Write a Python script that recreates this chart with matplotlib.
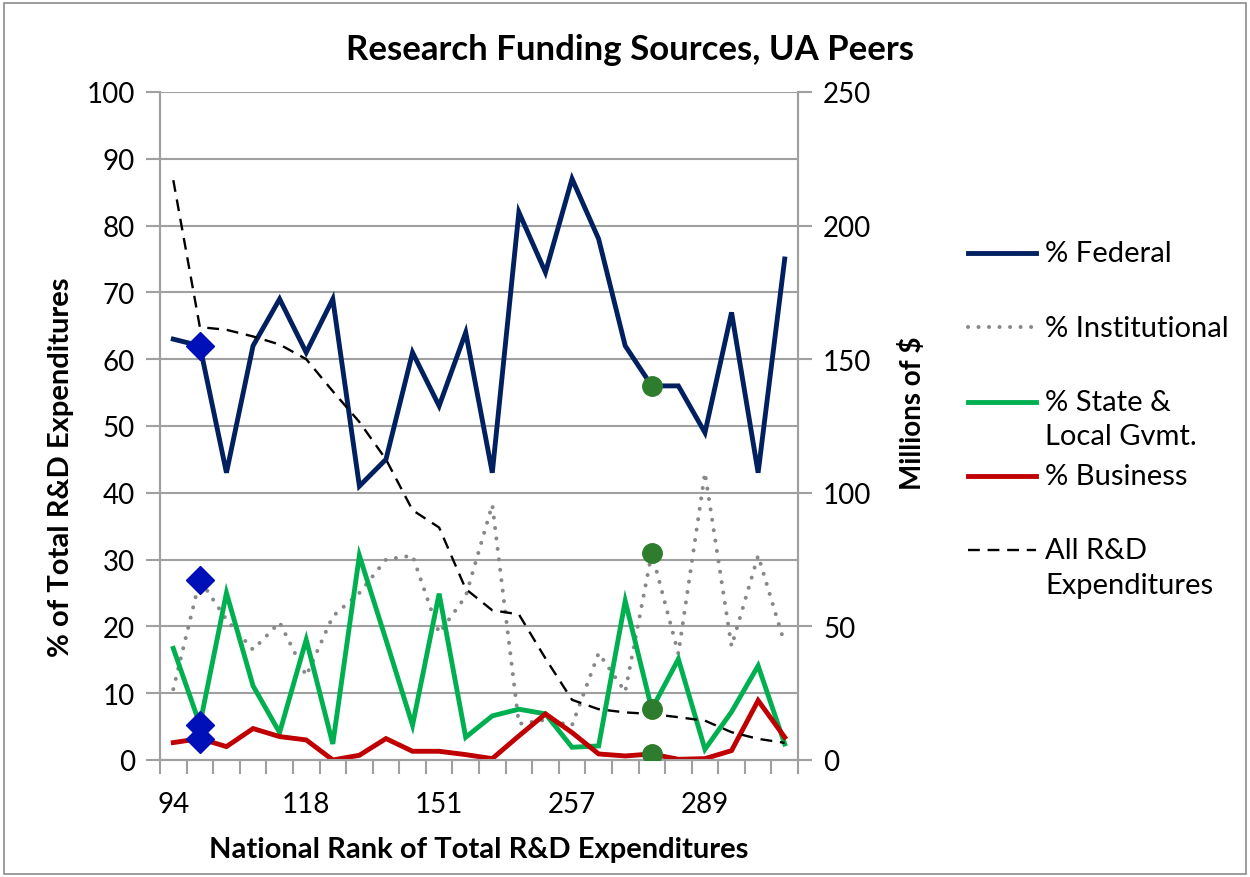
import numpy as np
import matplotlib
matplotlib.use("Agg")
import matplotlib.pyplot as plt
from matplotlib.lines import Line2D
from matplotlib.patches import Rectangle

plt.rcParams['font.family'] = ['Lato', 'DejaVu Sans']

# category labels: national rank, only every 5th label is shown on the chart
rank_labels = ["94", "118", "151", "257", "289"]
n_peers = 24
label_every = 5

# percent of total R&D by source (left axis)
federal = [63, 62, 43, 62, 69, 61, 69, 41, 45, 61, 53, 64,
           43, 82, 73, 87, 78, 62, 56, 56, 49, 67, 43, 75]
institutional = [10.6, 27, 21, 16.5, 20.6, 12.6, 21.5, 25, 30, 30.6, 19, 24.5,
                 38.2, 5.4, 6, 5.2, 16, 10.2, 31, 15.9, 43, 17, 30.6, 17.4]
state_local = [16.7, 5.3, 25, 11.1, 4.1, 18, 2.4, 30.6, 18, 5.2, 24.9, 3.4,
               6.6, 7.6, 6.9, 1.9, 2.1, 23.8, 7.6, 15.1, 1.6, 7.2, 14.1, 2.4]
business = [2.6, 3.2, 2.0, 4.7, 3.5, 3.0, 0.0, 0.7, 3.2, 1.3, 1.3, 0.8,
            0.2, 3.6, 6.9, 4.1, 0.9, 0.6, 0.9, 0.1, 0.2, 1.4, 8.9, 3.4]
# total R&D expenditures, millions of $ (right axis)
all_rd = [217, 162, 161, 158.5, 155.5, 150, 138, 126.5, 112.5, 93.5, 87, 64,
          56, 54.5, 38, 22.5, 19, 17.8, 17.2, 16, 14.7, 10.4, 7.9, 6.4]

ua_index = 1      # blue diamonds
peer_index = 18   # green circles

x = np.arange(n_peers)

fig = plt.figure(figsize=(12.5, 8.78), dpi=100)
ax = fig.add_axes([0.128, 0.1333, 0.5104, 0.7608])
ax2 = ax.twinx()

grid_c = '#a0a0a0'
dots = (0, (0.01, 2.6))
ax.plot(x, federal, color='#002060', lw=3.5, solid_joinstyle='miter', zorder=3)
ax.plot(x, institutional, color='#888888', lw=2.9, linestyle=dots,
        dash_capstyle='round', zorder=3)
ax.plot(x, state_local, color='#00b050', lw=3.5, solid_joinstyle='miter', zorder=3)
ax.plot(x, business, color='#c00000', lw=3.5, solid_joinstyle='miter', zorder=3)
ax2.plot(x, all_rd, color='black', lw=1.7, linestyle=(0, (5, 3.3)), zorder=3)

# highlighted institutions, drawn on the secondary axes so they sit on top
for s in [federal, institutional, state_local, business]:
    ax2.plot(ua_index, s[ua_index] * 2.5, marker='D', ms=14.5, color='#0010b8',
             linestyle='none', zorder=5)
    ax2.plot(peer_index, s[peer_index] * 2.5, marker='o', ms=14, color='#2e7d2e',
             linestyle='none', zorder=5)

ax.set_xlim(-0.5, n_peers - 0.5)
ax.set_ylim(0, 100)
ax2.set_ylim(0, 250)
ax.set_yticks(np.arange(0, 101, 10))
ax2.set_yticks(np.arange(0, 251, 50))
ax.set_xticks(x[::label_every])
ax.set_xticklabels(rank_labels)
ax.set_xticks(np.arange(-0.5, n_peers, 1), minor=True)

ax.grid(axis='y', color=grid_c, lw=1.5)
ax.set_axisbelow(True)
for a in (ax, ax2):
    for sp in a.spines.values():
        sp.set_color(grid_c)
        sp.set_linewidth(1.5)
    a.spines['top'].set_visible(False)
ax.tick_params(axis='y', length=10, width=1.5, color=grid_c, labelsize=20, pad=8)
ax2.tick_params(axis='y', length=10, width=1.5, color=grid_c, labelsize=20, pad=8)
ax.tick_params(axis='x', which='major', length=0, labelsize=20, pad=22)
ax.tick_params(axis='x', which='minor', length=10, width=1.5, color=grid_c)

ax.set_xlabel('National Rank of Total R&D Expenditures', fontsize=21,
              fontweight='bold', va='center')
ax.xaxis.set_label_coords(0.5, -0.133)
ax.set_ylabel('% of Total R&D Expenditures', fontsize=21, fontweight='bold',
              va='center')
ax.yaxis.set_label_coords(-0.155, 0.439)
ax2.set_ylabel('Millions of $', fontsize=20, fontweight='bold', va='center')
ax2.yaxis.set_label_coords(1.179, 0.521)
fig.text(0.504, 0.943, 'Research Funding Sources, UA Peers', fontsize=25,
         fontweight='bold', ha='center', va='center')

# legend, laid out like the spreadsheet one
legend_items = [
    ('% Federal', dict(color='#002060', lw=3.5)),
    ('% Institutional', dict(color='#888888', lw=2.9, linestyle=dots,
                             dash_capstyle='round')),
    ('% State &\nLocal Gvmt.', dict(color='#00b050', lw=3.5)),
    ('% Business', dict(color='#c00000', lw=3.5)),
    ('All R&D\nExpenditures', dict(color='black', lw=1.7, linestyle=(0, (5, 3.3)))),
]
y0, step = 1 - 254 / 878, 74.3 / 878
for k, (lab, style) in enumerate(legend_items):
    yy = y0 - k * step
    fig.add_artist(Line2D([968 / 1250, 1036 / 1250], [yy, yy], **style))
    fig.text(1045 / 1250, yy + 0.0145, lab, fontsize=21, ha='left', va='top',
             linespacing=1.4)

fig.add_artist(Rectangle((0.003, 0.003), 0.994, 0.992, transform=fig.transFigure,
                         fill=False, edgecolor='#8c8c8c', lw=1.2))

fig.savefig('out.png', dpi=100)
